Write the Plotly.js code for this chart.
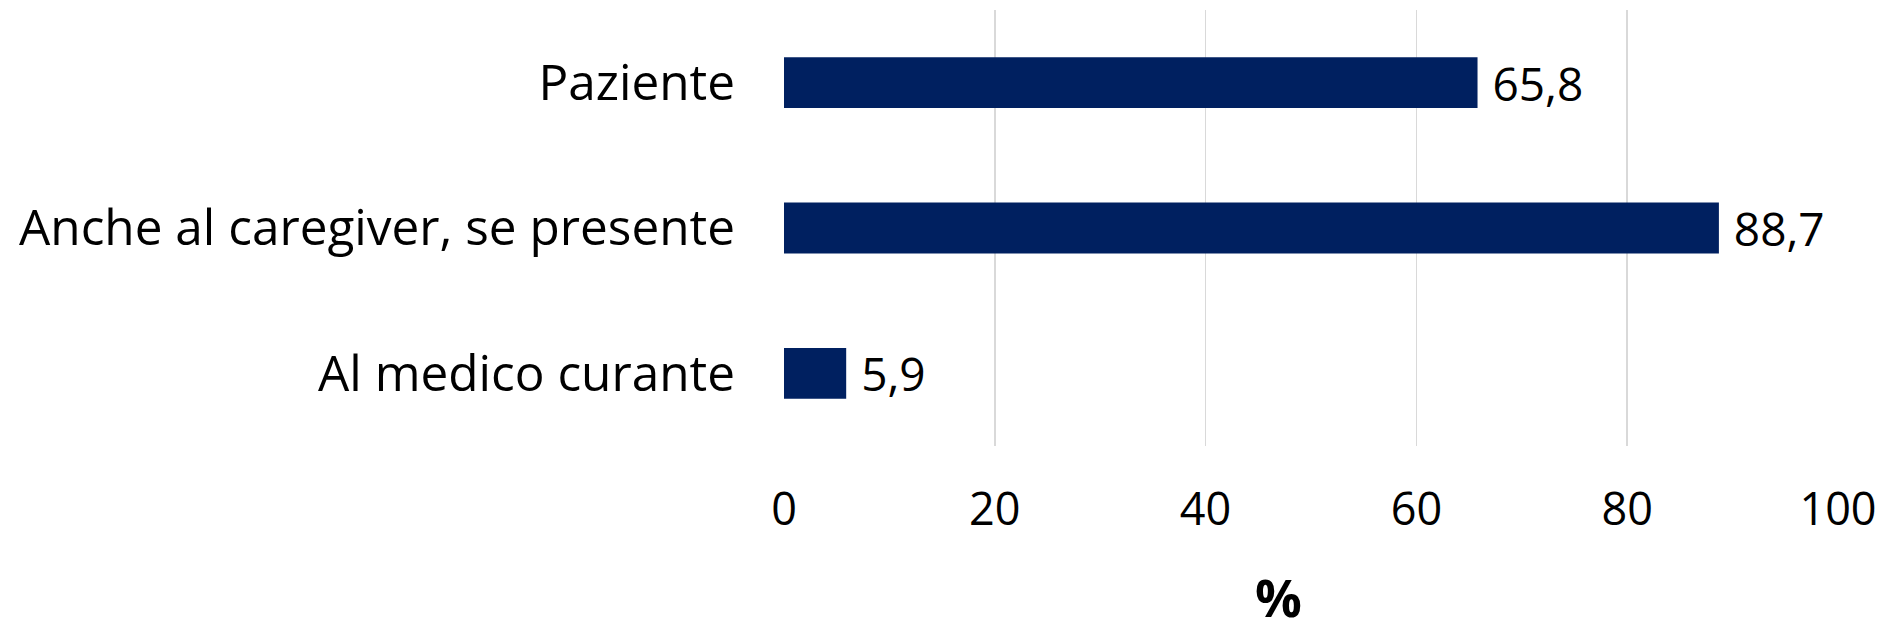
<!DOCTYPE html>
<html>
<head>
<meta charset="utf-8">
<script src="https://cdn.plot.ly/plotly-3.0.1.min.js"></script>
<style>html,body{margin:0;padding:0;background:#fff;}#chart{width:1891px;height:636px;}</style>
</head>
<body>
<div id="chart"></div>
<script>
const categories = ["Paziente", "Anche al caregiver, se presente", "Al medico curante"];
const values = [65.8, 88.7, 5.9];
const tickValues = [0, 20, 40, 60, 80, 100];
const axisTitle = "%";

const FONT = "Open Sans, Noto Sans, sans-serif";

const trace = {
  type: "bar",
  orientation: "h",
  y: categories,
  x: values,
  marker: {color: "#002060", line: {width: 0}},
  width: 0.35,
  texttemplate: "\u00a0%{x:.1f}",
  textposition: "outside",
  constraintext: "none",
  cliponaxis: false,
  textfont: {family: FONT, size: 46, color: "#000"},
  hoverinfo: "none"
};

const layout = {
  width: 1891,
  height: 636,
  margin: {l: 784, r: 53, t: 10, b: 190, pad: 0},
  separators: ",.",
  paper_bgcolor: "#fff",
  plot_bgcolor: "#fff",
  showlegend: false,
  font: {family: FONT, color: "#000"},
  xaxis: {
    range: [0, 100],
    tickvals: tickValues,
    ticks: "",
    showgrid: true,
    gridcolor: "#d9d9d9",
    gridwidth: 1.5,
    zeroline: false,
    showline: false,
    tickfont: {family: FONT, size: 45, color: "#000"},
    ticklabelstandoff: 33,
    fixedrange: true
  },
  yaxis: {
    type: "category",
    categoryorder: "array",
    categoryarray: categories.slice().reverse(),
    ticks: "",
    showgrid: false,
    zeroline: false,
    showline: false,
    tickfont: {family: FONT, size: 49.5, color: "#000"},
    ticklabelstandoff: 48,
    fixedrange: true
  },
  annotations: [{
    text: "<b>" + axisTitle + "</b>",
    xref: "paper", yref: "paper",
    x: 0.4687, y: 0,
    yshift: -188,
    xanchor: "center", yanchor: "bottom",
    showarrow: false,
    font: {family: FONT, size: 52, color: "#000"}
  }]
};

Plotly.newPlot("chart", [trace], layout, {displayModeBar: false, staticPlot: true});
</script>
</body>
</html>
